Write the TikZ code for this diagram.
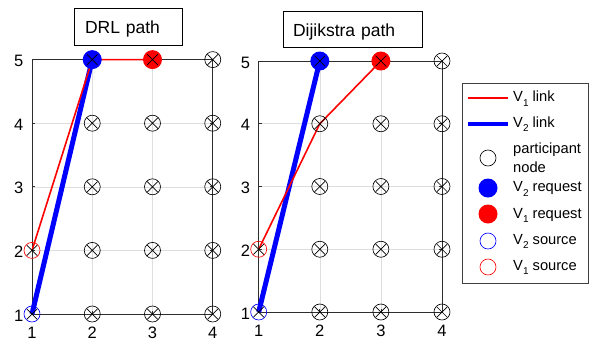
\documentclass[tikz,border=0pt]{standalone}
\usepackage{fontspec}
\setmainfont{Liberation Sans}
\newcommand\sbs[1]{\raisebox{-4.5pt}{\fontsize{10}{10}\selectfont #1}}
\begin{document}
\begin{tikzpicture}[x=1pt,y=-1pt,
  axisline/.style={draw=black!82, line width=0.7pt},
  gridline/.style={draw=black!13, line width=0.6pt},
  pnode/.style={circle, draw=black, line width=0.65pt, minimum size=16pt, inner sep=0pt},
  reqnode/.style={circle, fill=#1, minimum size=19pt, inner sep=0pt},
  srcnode/.style={circle, draw=#1, line width=0.65pt, minimum size=16pt, inner sep=0pt},
  xmark/.style={rectangle, minimum size=10.8pt, inner sep=0pt,
    path picture={\draw[line width=0.7pt,black]
      (path picture bounding box.north west) -- (path picture bounding box.south east)
      (path picture bounding box.north east) -- (path picture bounding box.south west);}},
  ticklab/.style={font=\fontsize{16.5}{16.5}\selectfont, inner sep=0pt},
  titlebox/.style={draw=black, line width=0.6pt, fill=white, align=left, inner sep=0pt,
    text height=14pt, text depth=0pt, font=\fontsize{17.5}{17.5}\selectfont},
  legtext/.style={font=\fontsize{14.7}{17}\selectfont, inner sep=0pt, anchor=base west, align=left},
  v1link/.style={draw=red, line width=1.6pt},
  v2link/.style={draw=blue, line width=5pt},
]
\useasboundingbox (0,0) rectangle (592,341);
% grid coordinates
\foreach \i in {1,...,4} \foreach \j in {1,...,5} {
  \coordinate (L-\i-\j) at ({32+(\i-1)*60.25},{314-(\j-1)*63.6});
  \coordinate (R-\i-\j) at ({258.7+(\i-1)*61.1},{312-(\j-1)*62.75});
}
\foreach \P in {L,R} {
  % grid lines
  \foreach \i in {2,3} \draw[gridline] (\P-\i-1) -- (\P-\i-5);
  \foreach \j in {2,3,4} \draw[gridline] (\P-1-\j) -- (\P-4-\j);
  % axes box
  \draw[axisline] (\P-1-1) rectangle (\P-4-5);
  % ticks
  \foreach \i in {2,3} {
    \draw[axisline] (\P-\i-1) -- ++(0,-3);
    \draw[axisline] (\P-\i-5) -- ++(0,3);
  }
  \foreach \j in {2,3,4} {
    \draw[axisline] (\P-1-\j) -- ++(3,0);
    \draw[axisline] (\P-4-\j) -- ++(-3,0);
  }
  % tick labels
  \foreach \i in {1,...,4}
    \node[ticklab, anchor=base] (\P x\i) at ([yshift=-24.8pt]\P-\i-1) {\i};
  \foreach \j in {1,...,5}
    \node[ticklab, anchor=east] (\P y\j) at ([xshift=-8.5pt,yshift=-1.5pt]\P-1-\j) {\j};
}
% links: left (DRL)
\draw[v2link] (L-1-1) -- (L-2-5);
\draw[v1link] (L-1-2) -- (L-2-5) -- (L-3-5);
% links: right (Dijkstra)
\draw[v2link] (R-1-1) -- (R-2-5);
\draw[v1link] (R-1-2) -- (R-2-4) -- (R-3-5);
% markers
\foreach \P in {L,R} {
  \foreach \i/\j in {2/1,2/2,2/3,2/4,3/1,3/2,3/3,3/4,4/1,4/2,4/3,4/4,4/5}
    \node[pnode] (\P p\i\j) at (\P-\i-\j) {};
  \node[reqnode=blue] (\P req2) at (\P-2-5) {};
  \node[reqnode=red] (\P req1) at (\P-3-5) {};
  \node[srcnode=blue] (\P src2) at (\P-1-1) {};
  \node[srcnode=red] (\P src1) at (\P-1-2) {};
  \foreach \i/\j in {1/1,1/2,2/1,2/2,2/3,2/4,2/5,3/1,3/2,3/3,3/4,3/5,4/1,4/2,4/3,4/4,4/5}
    \node[xmark] (\P x\i\j) at (\P-\i-\j) {};
}
% titles
\node[titlebox, minimum width=108pt, minimum height=37pt, text width=86pt] (tL) at (128,26.5) {DRL path};
\node[titlebox, minimum width=139pt, minimum height=36pt, text width=119pt] (tR) at (352.5,29) {Dijikstra path};
% legend
\node[draw=black!75, line width=0.6pt, fill=white, minimum width=126pt, minimum height=200pt, inner sep=0pt] (leg) at (525,183) {};
\coordinate (la1) at (468,98);  \coordinate (lb1) at (508,98);
\coordinate (la2) at (468,124); \coordinate (lb2) at (508,124);
\draw[v1link, line width=1.3pt] (la1) -- (lb1);
\draw[v2link, line width=4.5pt] (la2) -- (lb2);
\node[pnode] (lgp) at (488,158) {};
\node[reqnode=blue] (lgr2) at (488,188) {};
\node[reqnode=red] (lgr1) at (488,214) {};
\node[srcnode=blue] (lgs2) at (488,241) {};
\node[srcnode=red] (lgs1) at (488,267) {};
\node[legtext] (lt1) at (513,101.7) {V\sbs{1} link};
\node[legtext] (lt2) at (513,127.3) {V\sbs{2} link};
\node[legtext] (lt3) at (513,153.5) {participant};
\node[legtext] (lt3b) at (513,172.5) {node};
\node[legtext] (lt4) at (513,191.7) {V\sbs{2} request};
\node[legtext] (lt5) at (513,218) {V\sbs{1} request};
\node[legtext] (lt6) at (513,244) {V\sbs{2} source};
\node[legtext] (lt7) at (513,270) {V\sbs{1} source};
\end{tikzpicture}
\end{document}
